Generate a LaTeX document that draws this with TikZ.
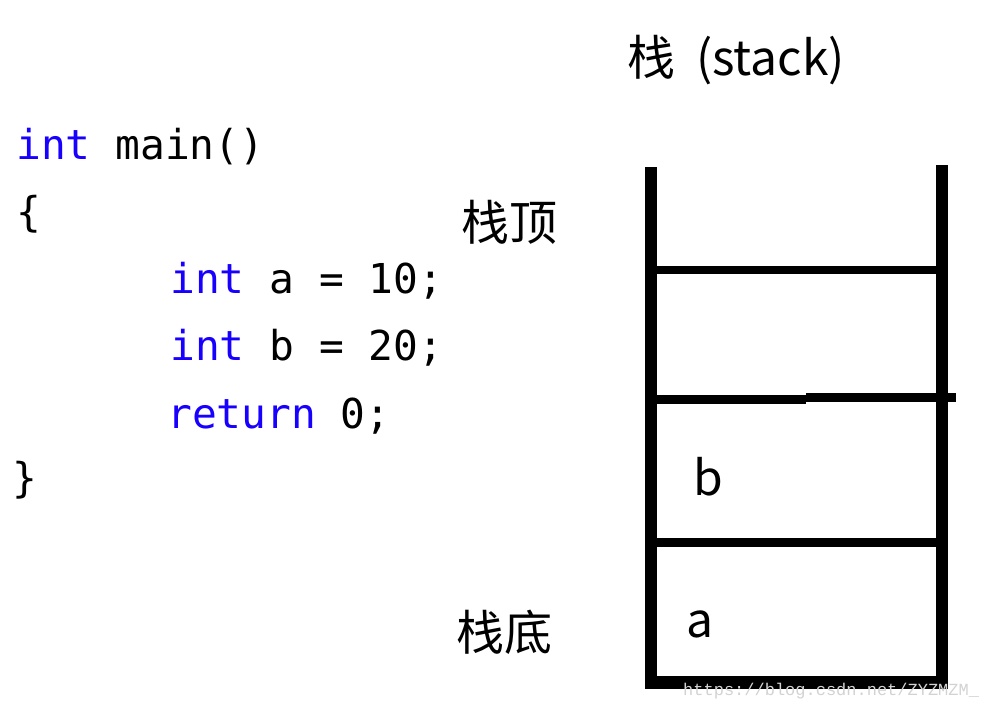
\documentclass[tikz,border=0pt]{standalone}
\usepackage{fontspec}
\usepackage{xcolor}
\usepackage{tikz}
\usetikzlibrary{positioning}
\newfontfamily\cjk{Noto Sans CJK SC}
\newfontfamily\codefont{DejaVu Sans Mono}
\newfontfamily\wmfont{Liberation Mono}
\definecolor{kwblue}{RGB}{24,0,255}

\begin{document}
\begin{tikzpicture}[
  x=1pt, y=-1pt,
  code/.style={anchor=base west, inner sep=0pt, font=\codefont\fontsize{41.2}{48}\selectfont},
  lbl/.style={anchor=base west, inner sep=0pt, font=\cjk\fontsize{48}{56}\selectfont},
  wall/.style={line width=12pt},
  bar/.style={line width=8.5pt}]
  \useasboundingbox (0,0) rectangle (984,710);
  % code
  \node[code] (c1) at (16,159) {\textcolor{kwblue}{int} main()};
  \node[code] (c2) at (16,226) {\{};
  \node[code] (c3) at (170,293) {\textcolor{kwblue}{int} a = 10;};
  \node[code] (c4) at (170,360) {\textcolor{kwblue}{int} b = 20;};
  \node[code] (c5) at (167,428) {\textcolor{kwblue}{return} 0;};
  \node[code] (c6) at (12,492) {\}};
  % stack frame
  \draw[wall] (651,167) -- (651,689);
  \draw[wall] (942,165) -- (942,689);
  \draw[line width=13pt] (645,682.5) -- (948,682.5);
  \draw[bar] (657,270) -- (936,270);
  \draw[bar] (657,399.5) -- (806,399.5);
  \draw[bar] (806,397.5) -- (956,397.5);
  \draw[bar] (657,542.5) -- (936,542.5);
  % labels
  \node[lbl] (title) at (627,75) {栈\hspace{21pt}(stack)};
  \node[lbl] (top) at (461,240) {栈顶};
  \node[lbl] (bot) at (456,650) {栈底};
  \node[lbl] (vb) at (693,495) {b};
  \node[lbl] (va) at (686,637) {a};
  \node[anchor=base west, inner sep=0pt, text=gray!35, font=\wmfont\fontsize{17}{20}\selectfont]
    (wm) at (683,695) {https://blog.csdn.net/ZYZMZM\_};
\end{tikzpicture}
\end{document}
